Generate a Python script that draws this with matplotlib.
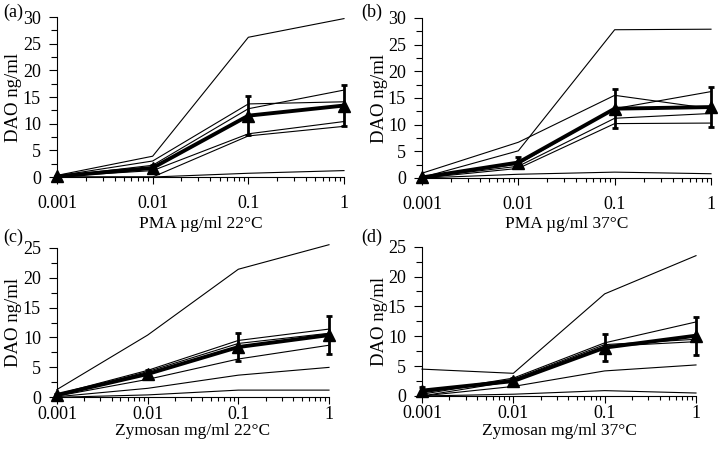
import matplotlib
matplotlib.use("Agg")
import matplotlib.pyplot as plt
from matplotlib import rcParams
from matplotlib.ticker import MultipleLocator, LogLocator, NullFormatter, FixedLocator, FixedFormatter

rcParams["font.family"] = "serif"
rcParams["font.serif"] = ["Liberation Serif", "DejaVu Serif"]
rcParams["font.size"] = 13

DOSES = [0.001, 0.01, 0.1, 1]
DOSE_LABELS = ["0.001", "0.01", "0.1", "1"]

# individual donors, panel (a) PMA 22C
PMA_22_LINES = [
    [0.3, 3.9, 26.2, 29.7],
    [0.2, 3.0, 13.7, 14.1],
    [0.1, 2.2, 12.8, 16.3],
    [0.1, 1.2, 8.1, 10.4],
    [0.0, 0.0, 7.7, 9.5],
    [0.0, 0.0, 0.7, 1.2],
]
PMA_22_MEAN = [0.1, 1.7, 11.5, 13.4]
PMA_22_ERR = [0.1, 0.6, 3.6, 3.9]

# panel (b) PMA 37C
PMA_37_LINES = [
    [0.1, 5.1, 27.8, 27.9],
    [0.9, 6.7, 15.5, 13.0],
    [0.1, 2.6, 13.0, 16.2],
    [0.1, 2.2, 11.2, 12.1],
    [0.0, 1.8, 10.2, 10.3],
    [0.0, 0.7, 1.1, 0.8],
]
PMA_37_MEAN = [0.1, 2.9, 13.0, 13.3]
PMA_37_ERR = [0.1, 1.0, 3.6, 3.7]

# panel (c) Zymosan 22C
ZYM_22_LINES = [
    [1.3, 10.4, 21.4, 25.5],
    [0.5, 4.5, 9.5, 11.4],
    [0.3, 4.3, 9.0, 10.7],
    [0.2, 3.0, 6.4, 8.7],
    [0.1, 1.5, 3.7, 5.0],
    [0.0, 0.4, 1.2, 1.2],
]
ZYM_22_MEAN = [0.4, 3.9, 8.4, 10.4]
ZYM_22_ERR = [0.2, 0.6, 2.3, 3.2]

# panel (d) Zymosan 37C
ZYM_37_LINES = [
    [4.5, 3.8, 17.1, 23.5],
    [0.5, 3.0, 8.9, 12.4],
    [0.3, 2.8, 8.6, 9.5],
    [0.0, 2.5, 8.3, 9.1],
    [0.0, 1.6, 4.2, 5.2],
    [0.0, 0.3, 0.9, 0.5],
]
ZYM_37_MEAN = [0.9, 2.5, 8.1, 10.1]
ZYM_37_ERR = [0.6, 0.5, 2.3, 3.2]

XLABELS = ["PMA µg/ml 22°C", "PMA µg/ml 37°C", "Zymosan mg/ml 22°C", "Zymosan mg/ml 37°C"]
PANEL_TAGS = ["(a)", "(b)", "(c)", "(d)"]
YMAX = [30, 30, 25, 25]

W, H = 718, 449
# axes boxes in pixels: left, right, y(top value), y(0)
BOXES = [
    (57, 344, 17, 177),
    (422, 711, 18, 178),
    (57, 329, 247.7, 397.3),
    (422, 696, 246.7, 396),
]
TAG_POS = [(3, 12), (361, 12), (3, 237), (361, 237)]
YLABEL_X = [13.5, 379, 13.5, 379]
XTICK_PAD = [8, 8, 1.5, 1.5]
XLABEL_Y = [224, 224, 431, 431]


def draw_panel(fig, idx, lines, mean, err):
    left, right, top, bottom = BOXES[idx]
    ax = fig.add_axes([left / W, (H - bottom) / H, (right - left) / W, (bottom - top) / H])
    for y in lines:
        ax.plot(DOSES, y, color="black", linewidth=0.8, clip_on=False)
    eb = ax.errorbar(
        DOSES, mean, yerr=err, color="black", linewidth=2.8, marker="^",
        markersize=8, elinewidth=2, capsize=2.5, capthick=2, zorder=5,
    )
    for art in eb.get_children():
        art.set_clip_on(False)
    ax.set_xscale("log")
    ax.set_xlim(0.001, 1)
    ax.set_ylim(0, YMAX[idx])
    ax.spines["top"].set_visible(False)
    ax.spines["right"].set_visible(False)
    ax.xaxis.set_major_locator(FixedLocator(DOSES))
    ax.xaxis.set_major_formatter(FixedFormatter(DOSE_LABELS))
    ax.xaxis.set_minor_locator(LogLocator(base=10, subs=range(2, 10)))
    ax.xaxis.set_minor_formatter(NullFormatter())
    ax.yaxis.set_major_locator(MultipleLocator(5))
    ax.yaxis.set_minor_locator(MultipleLocator(2.5))
    ax.tick_params(axis="x", which="major", length=5, width=0.8, pad=XTICK_PAD[idx])
    ax.tick_params(axis="x", which="minor", length=3, width=0.8)
    ax.tick_params(axis="y", which="major", length=6, width=0.8, pad=5.5)
    ax.tick_params(axis="y", which="minor", length=4, width=0.8)
    ax.set_xlabel(XLABELS[idx], fontsize=12.5, va="center")
    ax.xaxis.set_label_coords(0.5, (bottom - XLABEL_Y[idx]) / (bottom - top))
    ax.set_ylabel("DAO ng/ml", fontsize=13.5, va="center")
    ax.yaxis.set_label_coords((YLABEL_X[idx] - left) / (right - left), 0.5)
    ax.patch.set_alpha(0)
    return ax


def main():
    fig = plt.figure(figsize=(W / 100, H / 100), dpi=100)
    data = [
        (PMA_22_LINES, PMA_22_MEAN, PMA_22_ERR),
        (PMA_37_LINES, PMA_37_MEAN, PMA_37_ERR),
        (ZYM_22_LINES, ZYM_22_MEAN, ZYM_22_ERR),
        (ZYM_37_LINES, ZYM_37_MEAN, ZYM_37_ERR),
    ]
    for idx, (lines, mean, err) in enumerate(data):
        draw_panel(fig, idx, lines, mean, err)
        tx, ty = TAG_POS[idx]
        fig.text(tx / W, 1 - ty / H, PANEL_TAGS[idx], ha="left", va="center")
    fig.savefig("out.png", dpi=100)
    plt.close(fig)


if __name__ == "__main__":
    main()
